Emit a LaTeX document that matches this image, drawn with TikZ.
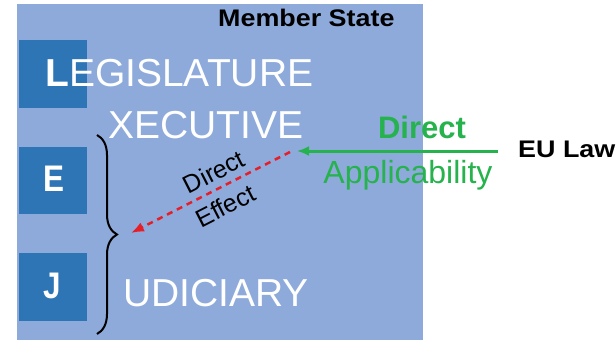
\documentclass[tikz,border=0pt]{standalone}
\usepackage{fontspec}
\setmainfont{Liberation Sans}
\usetikzlibrary{decorations.pathreplacing,arrows.meta}

\definecolor{panel}{RGB}{142,170,219}
\definecolor{square}{RGB}{46,117,182}
\definecolor{lawgreen}{RGB}{38,178,76}
\definecolor{effred}{RGB}{230,30,40}

\newcommand{\fs}[1]{\fontsize{#1}{#1}\selectfont}

\tikzset{
	branch/.style={text=white, inner sep=0pt, anchor=base west, font=\fs{39}},
	letter/.style={text=white, inner sep=0pt, font=\fs{37}\bfseries, xscale=0.85},
	title/.style={inner sep=0pt, anchor=base west, font=\fs{24}\bfseries, xscale=1.12}
}

\begin{document}
\begin{tikzpicture}[x=1pt,y=-1pt]
\useasboundingbox (0,0) rectangle (616,340);
\fill[panel] (17,4) rectangle (423,340);
\fill[square] (19,40) rectangle (87,108);
\fill[square] (19,147) rectangle (87,214);
\fill[square] (19,253) rectangle (87,321);
\node[letter] (e) at (53.5,179) {E};
\node[letter] (j) at (52,286) {J};
\node[branch] (leg) at (45,86) {{\bfseries L}EGISLATURE};
\node[branch] (exe) at (108,138) {XECUTIVE};
\node[branch] (jud) at (123,306) {UDICIARY};
\node[title] (ms) at (218,27) {Member State};
\node[title] (eu) at (518,157) {EU Law};
\coordinate (law) at (498,151);
\coordinate (state) at (297,151);
\coordinate (start) at (290,152);
\coordinate (courts) at (131,233);
\draw[decorate, decoration={brace, amplitude=20pt}, line width=2pt] (97,135) -- (97,334);
\draw[lawgreen, line width=3pt, -{Latex[length=12pt,width=10pt]}] (law) -- (state)
	node[pos=0.378, above=7pt, text=lawgreen, font=\fs{31}\bfseries] {Direct}
	node[pos=0.448, below=4pt, text=lawgreen, font=\fs{32}] {Applicability};
\draw[effred, line width=2.5pt, dash pattern=on 6pt off 5pt, -{Latex[length=13pt,width=10pt]}] (start) -- (courts)
	node[pos=0.43, sloped, above=3pt, text=black, font=\fs{25}] {Direct}
	node[pos=0.46, sloped, below=5pt, text=black, font=\fs{25}] {Effect};
\end{tikzpicture}
\end{document}
